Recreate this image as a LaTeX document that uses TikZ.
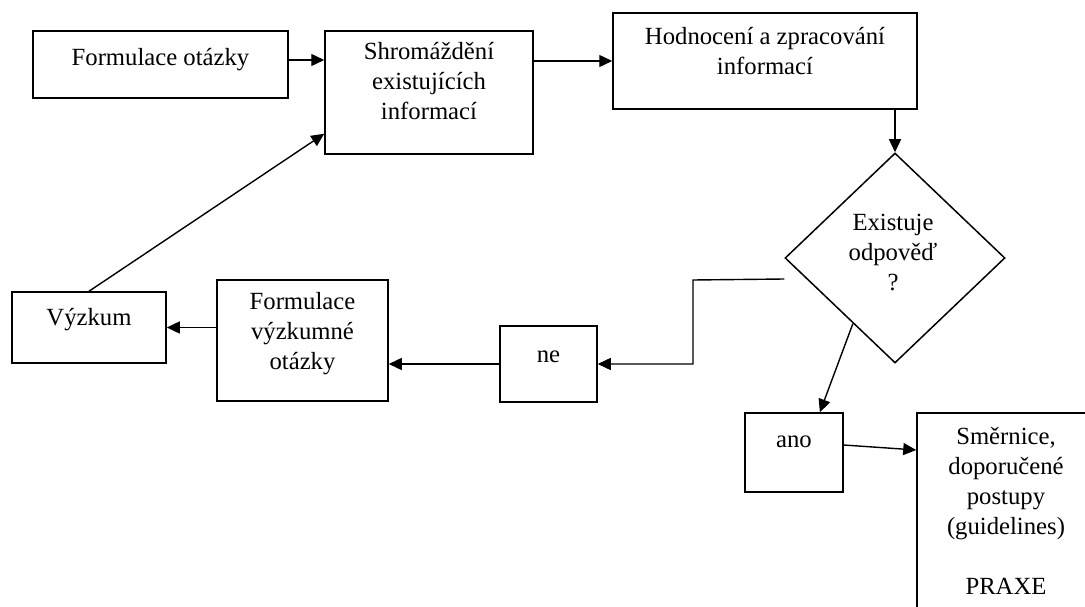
\documentclass[tikz,border=0pt]{standalone}
\usepackage{fontspec}
\setmainfont{Liberation Serif}
\usetikzlibrary{arrows.meta,shapes.geometric,calc}

\tikzset{
  box/.style={draw, line width=1.5pt, rectangle, inner sep=0pt},
  dbox/.style={draw, line width=1.5pt, diamond, inner sep=0pt},
  txt/.style={font=\fontsize{24.7}{30}\selectfont, align=center, inner sep=0pt,
    anchor=north, execute at begin node=\strut, execute at end node=\strut},
  arr/.style={line width=1.4pt, -{Triangle[length=13pt,width=12pt]}},
  ln/.style={line width=1.4pt}
}

\begin{document}
\begin{tikzpicture}[x=1pt,y=1pt]
\useasboundingbox (0,0) rectangle (1085,-607);
\clip (0,0) rectangle (1085,-607);
\fill[white] (0,0) rectangle (1085,-607);

% boxes
\node[box, minimum width=255pt, minimum height=67pt]  (b1)  at (160.5,-64.5) {};
\node[box, minimum width=208pt, minimum height=123pt] (b2)  at (429,-92.5) {};
\node[box, minimum width=304pt, minimum height=96pt]  (b3)  at (765,-61) {};
\node[dbox, minimum width=220pt, minimum height=210pt] (dia) at (895,-258) {};
\node[box, minimum width=154pt, minimum height=71pt]  (vyz) at (89,-327.5) {};
\node[box, minimum width=171pt, minimum height=121pt] (fv)  at (302.5,-340.5) {};
\node[box, minimum width=97pt, minimum height=76pt]   (ne)  at (548.5,-364) {};
\node[box, minimum width=98pt, minimum height=79pt]   (ano) at (794,-452.5) {};
\node[box, minimum width=203pt, minimum height=227pt] (sm)  at (1018.5,-526.5) {};

% labels
\node[txt] (t1) at (160.5,-44) {Formulace otázky};
\node[txt] (t2) at (429,-42) {Shromáždění\\existujících\\informací};
\node[txt] (t3) at (765,-27) {Hodnocení a zpracování\\informací};
\node[txt] (t4) at (893,-214) {Existuje\\odpověď\\?};
\node[txt] (t5) at (89,-304) {Výzkum};
\node[txt] (t6) at (302.5,-292) {Formulace\\výzkumné\\otázky};
\node[txt] (t7) at (548.5,-341) {ne};
\node[txt] (t8) at (794,-426) {ano};
\node[txt] (t9) at (1006,-427) {Směrnice,\\doporučené\\postupy\\(guidelines)\\[30pt]PRAXE};

% connectors
\coordinate (noout) at ($(dia.west)+(0,-21)$);
\coordinate (bend) at (693,-280);
\draw[arr] (b1.east |- 0,-60) -- (b2.west |- 0,-60);
\draw[arr] (b2.east |- 0,-61) -- (b3.west |- 0,-61);
\draw[arr] (b3.south -| dia.north) -- (dia.north);
\draw[arr] (noout) -- (bend) |- (ne.east);
\draw[arr] ($(dia.west)!0.62!(dia.south)$) -- ($(ano.north west)!0.76!(ano.north east)$);
\draw[arr] ($(ano.east)+(0,7.5)$) -- (sm.west |- 0,-450);
\draw[arr] (ne.west) -- (ne.west -| fv.east);
\draw[arr] (vyz.east -| fv.west) -- (vyz.east);
\draw[arr] (vyz.north) -- ($(b2.south west)+(0,21)$);
\end{tikzpicture}
\end{document}
